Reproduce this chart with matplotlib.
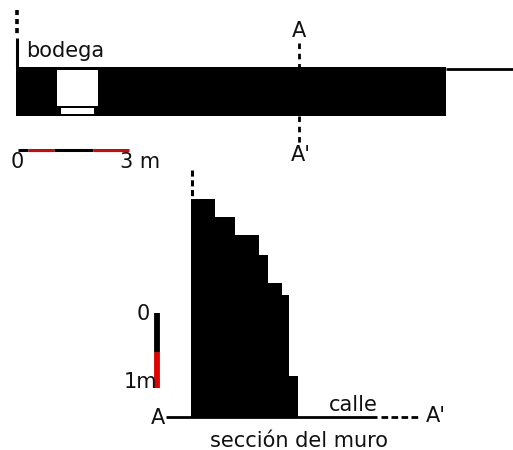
import matplotlib
matplotlib.use('Agg')
import matplotlib.pyplot as plt
from matplotlib.patches import Rectangle

# everything in pixels, y pointing down
plan_x = [16, 446]
plan_y = [67, 116]
window = [56.5, 70, 41, 36]
sill = [61, 108, 33, 5.5]
street_x = [446, 513]
street_y = [68.5, 68.5]
wall_left_x = [17, 17]
wall_left_y = [38, 67]
wall_left_dash_y = [10, 34]
cut_x = [298.5, 298.5]
cut_top_y = [43, 67]
cut_bottom_y = [116, 143]

scale_h_edges = [18, 28, 54, 93, 129]
scale_h_colors = ['black', '#e00000', 'black', '#e00000']
scale_v_edges = [313, 352, 388]
scale_v_colors = ['black', '#e00000']

# stepped profile of the wall section
section_x = [191, 215, 235, 259, 268, 282, 289, 298]
section_top = [199, 217, 235, 255, 283, 295, 376]
section_bottom = 417
section_dash_y = [170, 198]
ground_x = [166, 377]
ground_dash_x = [381, 421]
ground_y = [416.5, 416.5]

labels = [
    (26, 51, 'bodega', 'left'),
    (299, 31, 'A', 'center'),
    (301, 155, "A'", 'center'),
    (17, 162, '0', 'center'),
    (140, 162, '3 m', 'center'),
    (143, 314, '0', 'center'),
    (140, 382, '1m', 'center'),
    (158, 418, 'A', 'center'),
    (353, 405, 'calle', 'center'),
    (436, 416, "A'", 'center'),
    (299, 441, 'sección del muro', 'center'),
]

fig = plt.figure(figsize=(5.13, 4.5), dpi=100)
ax = fig.add_axes([0, 0, 1, 1])
ax.set_xlim(0, 513)
ax.set_ylim(450, 0)
ax.axis('off')

# plan view
ax.add_patch(Rectangle((plan_x[0], plan_y[0]), plan_x[1] - plan_x[0], plan_y[1] - plan_y[0],
                       facecolor='black', edgecolor='none'))
ax.add_patch(Rectangle(window[:2], window[2], window[3], facecolor='white', edgecolor='none'))
ax.add_patch(Rectangle(sill[:2], sill[2], sill[3], facecolor='white', edgecolor='none'))
ax.plot(street_x, street_y, color='black', lw=2, solid_capstyle='butt')
ax.plot(wall_left_x, wall_left_y, color='black', lw=2.2, solid_capstyle='butt')
ax.plot(wall_left_x, wall_left_dash_y, color='black', lw=2.6, dashes=(1.4, 1.1))
ax.plot(cut_x, cut_top_y, color='black', lw=2, dashes=(2.0, 1.7))
ax.plot(cut_x, cut_bottom_y, color='black', lw=2, dashes=(2.0, 1.7))

# scale bars
for i in range(len(scale_h_colors)):
    ax.plot(scale_h_edges[i:i + 2], [150, 150], color=scale_h_colors[i], lw=2.2, solid_capstyle='butt')
for i in range(len(scale_v_colors)):
    ax.plot([157, 157], scale_v_edges[i:i + 2], color=scale_v_colors[i], lw=4.2, solid_capstyle='butt')

# wall section
xs = []
ys = []
for i in range(len(section_top)):
    xs += [section_x[i], section_x[i + 1]]
    ys += [section_top[i], section_top[i]]
xs += [section_x[-1], section_x[0]]
ys += [section_bottom, section_bottom]
ax.fill(xs, ys, color='black', lw=0)
ax.plot([section_x[0] + 1, section_x[0] + 1], section_dash_y, color='black', lw=2.2, dashes=(2.0, 1.2))
ax.plot(ground_x, ground_y, color='black', lw=2, solid_capstyle='butt')
ax.plot(ground_dash_x, ground_y, color='black', lw=2, dashes=(2.4, 1.2))

for x, y, s, ha in labels:
    ax.text(x, y, s, ha=ha, va='center', fontsize=15, color='#111111', family='DejaVu Sans')

fig.savefig('out.png', dpi=100)
